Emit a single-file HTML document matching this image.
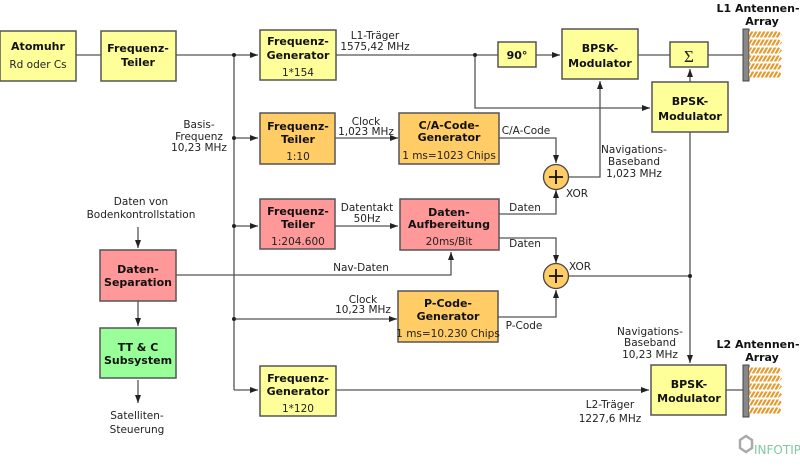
<!DOCTYPE html>
<html><head><meta charset="utf-8"><style>
body{margin:0;background:#fff;width:800px;height:471px;overflow:hidden}
svg{display:block}
text{font-family:"DejaVu Sans","Liberation Sans",sans-serif;font-size:10.5px;fill:#222}
.b{font-weight:bold;font-size:11px;fill:#111}
rect.n{stroke:#555;stroke-width:1.5}
.l{stroke:#555;stroke-width:1.3;fill:none}
</style></head><body>
<svg width="800" height="471" viewBox="0 0 800 471">
<defs>
<marker id="a" markerWidth="8" markerHeight="6" refX="8" refY="3" orient="auto" markerUnits="userSpaceOnUse"><path d="M0,0L8,3L0,6z" fill="#222"/></marker>
<pattern id="sp" width="4" height="6" patternUnits="userSpaceOnUse" patternTransform="skewX(-30)"><rect width="4" height="6" fill="#e69a2e"/><rect width="1.5" height="6" fill="#fff"/></pattern>
<g id="ant">
<rect x="0" y="0" width="6" height="52" fill="#888" stroke="#444"/>
<g fill="url(#sp)"><path d="M6,2.5h30l3,3l-3,3h-30z"/><path d="M6,10.5h30l3,3l-3,3h-30z"/><path d="M6,18.5h30l3,3l-3,3h-30z"/><path d="M6,26.5h30l3,3l-3,3h-30z"/><path d="M6,34.5h30l3,3l-3,3h-30z"/><path d="M6,42.5h30l3,3l-3,3h-30z"/></g>
</g>
</defs>
<path class="l" d="M76,55H101M176,55H234"/>
<path class="l" d="M234,55V390"/>
<path class="l" d="M234,55H258" marker-end="url(#a)"/>
<path class="l" d="M234,138H258" marker-end="url(#a)"/>
<path class="l" d="M234,226H258" marker-end="url(#a)"/>
<path class="l" d="M234,319H397" marker-end="url(#a)"/>
<path class="l" d="M234,390H258" marker-end="url(#a)"/>
<path class="l" d="M336,55H498M536,55H560" marker-end="url(#a)"/>
<path class="l" d="M475,55V108H650" marker-end="url(#a)"/>
<path class="l" d="M638,55H670M708,55H743"/>
<path class="l" d="M690,82V69" marker-end="url(#a)"/>
<path class="l" d="M335,138H398" marker-end="url(#a)"/>
<path class="l" d="M335,226H398" marker-end="url(#a)"/>
<path class="l" d="M499,138H556V163" marker-end="url(#a)"/>
<path class="l" d="M499,214H556V190" marker-end="url(#a)"/>
<path class="l" d="M499,238H556V263" marker-end="url(#a)"/>
<path class="l" d="M498,317H556V290" marker-end="url(#a)"/>
<path class="l" d="M569,177H600V81" marker-end="url(#a)"/>
<path class="l" d="M569,276H690"/>
<path class="l" d="M690,132V363" marker-end="url(#a)"/>
<path class="l" d="M176,275H451V252" marker-end="url(#a)"/>
<path class="l" d="M336,390H649" marker-end="url(#a)"/>
<path class="l" d="M726,390H743"/>
<path class="l" d="M138,227V248" marker-end="url(#a)"/>
<path class="l" d="M138,301V326" marker-end="url(#a)"/>
<path class="l" d="M138,380V403" marker-end="url(#a)"/>
<g fill="#222"><circle cx="234" cy="55" r="2"/><circle cx="234" cy="138" r="2"/><circle cx="234" cy="226" r="2"/><circle cx="234" cy="319" r="2"/><circle cx="475" cy="55" r="2"/><circle cx="690" cy="276" r="2"/></g>
<rect class="n" x="0" y="31" width="76" height="50" fill="#ffff99"/>
<text class="b" x="38" y="50" text-anchor="middle">Atomuhr</text>
<text x="38" y="68" text-anchor="middle">Rd oder Cs</text>
<rect class="n" x="101" y="31" width="75" height="50" fill="#ffff99"/>
<text class="b" x="138" y="52" text-anchor="middle">Frequenz-</text>
<text class="b" x="138" y="66" text-anchor="middle">Teiler</text>
<rect class="n" x="260" y="30" width="76" height="50" fill="#ffff99"/>
<text class="b" x="298" y="45" text-anchor="middle">Frequenz-</text>
<text class="b" x="298" y="59" text-anchor="middle">Generator</text>
<text x="298" y="76" text-anchor="middle">1*154</text>
<rect class="n" x="260" y="113" width="75" height="51" fill="#ffcc66"/>
<text class="b" x="298" y="130" text-anchor="middle">Frequenz-</text>
<text class="b" x="298" y="143" text-anchor="middle">Teiler</text>
<text x="298" y="160" text-anchor="middle">1:10</text>
<rect class="n" x="260" y="199" width="75" height="50" fill="#ff9999"/>
<text class="b" x="298" y="215" text-anchor="middle">Frequenz-</text>
<text class="b" x="298" y="228" text-anchor="middle">Teiler</text>
<text x="298" y="245" text-anchor="middle">1:204.600</text>
<rect class="n" x="260" y="366" width="76" height="50" fill="#ffff99"/>
<text class="b" x="298" y="382" text-anchor="middle">Frequenz-</text>
<text class="b" x="298" y="395" text-anchor="middle">Generator</text>
<text x="298" y="412" text-anchor="middle">1*120</text>
<rect class="n" x="399" y="113" width="100" height="51" fill="#ffcc66"/>
<text class="b" x="449" y="129" text-anchor="middle">C/A-Code-</text>
<text class="b" x="449" y="141" text-anchor="middle">Generator</text>
<text x="449" y="159" text-anchor="middle">1 ms=1023 Chips</text>
<rect class="n" x="400" y="199" width="99" height="51" fill="#ff9999"/>
<text class="b" x="449" y="216" text-anchor="middle">Daten-</text>
<text class="b" x="449" y="228" text-anchor="middle">Aufbereitung</text>
<text x="449" y="245" text-anchor="middle">20ms/Bit</text>
<rect class="n" x="398" y="291" width="100" height="51" fill="#ffcc66"/>
<text class="b" x="448" y="307" text-anchor="middle">P-Code-</text>
<text class="b" x="448" y="320" text-anchor="middle">Generator</text>
<text x="448" y="337" text-anchor="middle">1 ms=10.230 Chips</text>
<rect class="n" x="100" y="250" width="76" height="51" fill="#ff9999"/>
<text class="b" x="138" y="273" text-anchor="middle">Daten-</text>
<text class="b" x="138" y="286" text-anchor="middle">Separation</text>
<rect class="n" x="100" y="328" width="76" height="50" fill="#99ff99"/>
<text class="b" x="138" y="351" text-anchor="middle">TT &amp; C</text>
<text class="b" x="138" y="364" text-anchor="middle">Subsystem</text>
<rect class="n" x="498" y="42" width="38" height="25" fill="#ffff99"/>
<text class="b" x="517" y="59" text-anchor="middle">90°</text>
<rect class="n" x="562" y="29" width="76" height="50" fill="#ffff99"/>
<text class="b" x="600" y="52" text-anchor="middle">BPSK-</text>
<text class="b" x="600" y="67" text-anchor="middle">Modulator</text>
<rect class="n" x="670" y="42" width="38" height="25" fill="#ffff99"/>
<text x="689" y="62" text-anchor="middle" style="font-size:17px;font-family:'Liberation Serif',serif">Σ</text>
<rect class="n" x="652" y="82" width="76" height="50" fill="#ffff99"/>
<text class="b" x="690" y="105" text-anchor="middle">BPSK-</text>
<text class="b" x="690" y="120" text-anchor="middle">Modulator</text>
<rect class="n" x="651" y="365" width="75" height="50" fill="#ffff99"/>
<text class="b" x="689" y="388" text-anchor="middle">BPSK-</text>
<text class="b" x="689" y="402" text-anchor="middle">Modulator</text>
<g stroke="#444" stroke-width="1.3"><circle cx="556" cy="177" r="12.5" fill="#ffcc66"/><circle cx="556" cy="276" r="12.5" fill="#ffcc66"/>
<path d="M549,177h14M556,170v14M549,276h14M556,269v14" stroke="#111" stroke-width="1.8"/></g>
<use href="#ant" x="743" y="29"/>
<use href="#ant" x="743" y="365"/>
<text x="375" y="39" text-anchor="middle">L1-Träger</text>
<text x="375" y="50" text-anchor="middle">1575,42 MHz</text>
<text x="199" y="128" text-anchor="middle">Basis-</text>
<text x="199" y="140" text-anchor="middle">Frequenz</text>
<text x="199" y="151" text-anchor="middle">10,23 MHz</text>
<text x="366" y="125" text-anchor="middle">Clock</text>
<text x="366" y="135" text-anchor="middle">1,023 MHz</text>
<text x="367" y="211" text-anchor="middle">Datentakt</text>
<text x="367" y="222" text-anchor="middle">50Hz</text>
<text x="141" y="205" text-anchor="middle">Daten von</text>
<text x="141" y="218" text-anchor="middle">Bodenkontrollstation</text>
<text x="361" y="271" text-anchor="middle">Nav-Daten</text>
<text x="363" y="303" text-anchor="middle">Clock</text>
<text x="363" y="313" text-anchor="middle">10,23 MHz</text>
<text x="137" y="419" text-anchor="middle">Satelliten-</text>
<text x="137" y="433" text-anchor="middle">Steuerung</text>
<text x="526" y="134" text-anchor="middle">C/A-Code</text>
<text x="525" y="211" text-anchor="middle">Daten</text>
<text x="525" y="247" text-anchor="middle">Daten</text>
<text x="524" y="329" text-anchor="middle">P-Code</text>
<text x="577" y="197" text-anchor="middle">XOR</text>
<text x="580" y="270" text-anchor="middle">XOR</text>
<text x="634" y="153" text-anchor="middle">Navigations-</text>
<text x="634" y="165" text-anchor="middle">Baseband</text>
<text x="634" y="177" text-anchor="middle">1,023 MHz</text>
<text x="650" y="335" text-anchor="middle">Navigations-</text>
<text x="650" y="346" text-anchor="middle">Baseband</text>
<text x="650" y="358" text-anchor="middle">10,23 MHz</text>
<text x="610" y="408" text-anchor="middle">L2-Träger</text>
<text x="610" y="422" text-anchor="middle">1227,6 MHz</text>
<text class="b" x="758" y="12" text-anchor="middle">L1 Antennen-</text>
<text class="b" x="762" y="25" text-anchor="middle">Array</text>
<text class="b" x="758" y="348" text-anchor="middle">L2 Antennen-</text>
<text class="b" x="762" y="361" text-anchor="middle">Array</text>
<path d="M740,440l6,-4l6,4v8l-6,4l-6,-4z" fill="none" stroke="#aaa" stroke-width="2.5"/>
<text x="754" y="454" style="font-size:12px;fill:#7fc9a4">INFOTIP</text>
</svg>
</body></html>
